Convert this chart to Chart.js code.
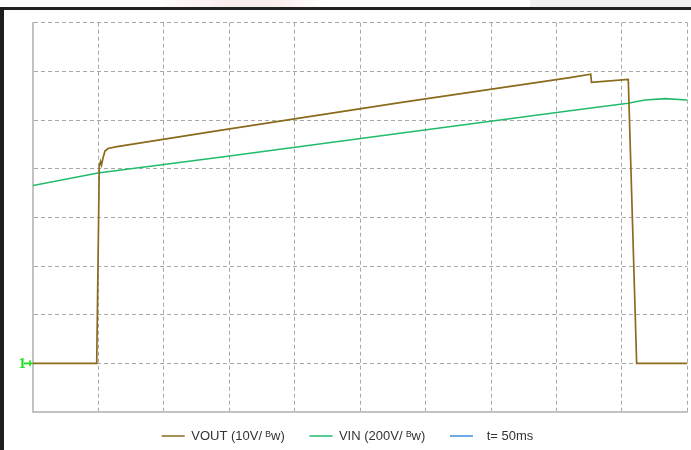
<!DOCTYPE html>
<html>
<head>
<meta charset="utf-8">
<script src="https://cdn.jsdelivr.net/npm/chart.js@4.4.1/dist/chart.umd.min.js"></script>
<style>
  html, body { margin: 0; padding: 0; background: #fff; }
  #wrap { position: relative; width: 691px; height: 450px; overflow: hidden; }
  #chart { position: absolute; left: 0; top: 0; }
  .topGray { position: absolute; left: 530px; top: 0; width: 161px; height: 7px; background: #f2f2f2; }
  .topPink { position: absolute; left: 150px; top: 0; width: 180px; height: 7px;
             background: linear-gradient(90deg, rgba(255,235,235,0), #fdeeee 40%, #fdeeee 70%, rgba(255,235,235,0)); }
  .topLine { position: absolute; left: 0; top: 7px; width: 691px; height: 2.5px; background: #222; }
  .leftLine { position: absolute; left: 0; top: 7px; width: 4px; height: 443px; background: #1e1e1e; }
</style>
</head>
<body>
<div id="wrap">
  <div class="topPink"></div>
  <div class="topGray"></div>
  <canvas id="chart" width="691" height="450"></canvas>
  <div class="topLine"></div>
  <div class="leftLine"></div>
</div>
<script>
// --- data (x and y in screen divisions, 10 x 8 grid) ---
const seriesNames = ['VOUT (10V/ \u1D2Ew)  ', 'VIN (200V/ \u1D2Ew)  ', '  t= 50ms       '];

const voutX = [0, 0.974, 1.013, 1.032, 1.047, 1.070, 1.100, 1.146, 1.284, 2.858, 5.609, 8.207, 8.524, 8.536, 9.098, 9.226, 10];
const voutY = [1.0, 1.0, 5.055, 5.148, 5.076, 5.220, 5.364, 5.415, 5.452, 5.789, 6.356, 6.870, 6.940, 6.776, 6.837, 1.0, 1.0];

const vinX = [0, 0.993, 2.858, 5.609, 8.207, 9.094, 9.354, 9.66, 10];
const vinY = [4.655, 4.911, 5.234, 5.728, 6.192, 6.344, 6.412, 6.439, 6.412];

const xDivisions = 10;
const yDivisions = 8;
const groundLevel = 1;

const colors = {
  vout: '#8a6b1c',
  vin: '#22bb6c',
  time: '#3d8fd9'
};

const toPoints = (xs, ys) => xs.map((x, i) => ({ x, y: ys[i] }));

// green "1->" ground marker on the left of the plot
const groundMarker = {
  id: 'groundMarker',
  afterDraw(chart) {
    const { ctx, scales } = chart;
    const y = scales.y.getPixelForValue(groundLevel);
    const left = chart.chartArea.left;
    ctx.save();
    ctx.fillStyle = '#1ee01e';
    ctx.strokeStyle = '#1ee01e';
    ctx.font = 'bold 15px "Liberation Serif", serif';
    ctx.textAlign = 'right';
    ctx.textBaseline = 'middle';
    ctx.fillText('1', left - 7, y + 1);
    ctx.lineWidth = 1.6;
    ctx.beginPath();
    ctx.moveTo(left - 9, y);
    ctx.lineTo(left, y);
    ctx.moveTo(left - 3, y - 3);
    ctx.lineTo(left - 3, y + 3);
    ctx.stroke();
    ctx.restore();
  }
};

// keep the legend band short so the plot reaches down like the scope screen
const legendHeight = {
  id: 'legendHeight',
  afterInit(chart) {
    const legend = chart.legend;
    if (!legend || legend._patched) return;
    const fit = legend.fit.bind(legend);
    legend.fit = function () {
      fit();
      this.height = 38;
    };
    legend._patched = true;
  }
};

const ctx = document.getElementById('chart');
new Chart(ctx, {
  type: 'line',
  data: {
    datasets: [
      {
        label: seriesNames[0],
        data: toPoints(voutX, voutY),
        borderColor: colors.vout,
        backgroundColor: colors.vout,
        borderWidth: 1.7,
        pointRadius: 0,
        tension: 0
      },
      {
        label: seriesNames[1],
        data: toPoints(vinX, vinY),
        borderColor: colors.vin,
        backgroundColor: colors.vin,
        borderWidth: 1.6,
        pointRadius: 0,
        tension: 0
      },
      {
        label: seriesNames[2],
        data: [],
        borderColor: colors.time,
        backgroundColor: colors.time,
        borderWidth: 1.6,
        pointRadius: 0
      }
    ]
  },
  options: {
    responsive: false,
    animation: false,
    layout: {
      padding: { left: 33, right: 3.7, top: 22.7, bottom: 0 }
    },
    scales: {
      x: {
        type: 'linear',
        min: 0,
        max: xDivisions,
        ticks: { display: false, stepSize: 1 },
        grid: { color: '#a8a8a8', lineWidth: 1, drawTicks: false },
        border: { display: true, color: '#c2c2c2', width: 2, dash: [4, 3] }
      },
      y: {
        type: 'linear',
        min: 0,
        max: yDivisions,
        ticks: { display: false, stepSize: 1 },
        grid: { color: '#a8a8a8', lineWidth: 1, drawTicks: false },
        border: { display: true, color: '#c2c2c2', width: 2, dash: [4, 3] }
      }
    },
    plugins: {
      legend: {
        position: 'bottom',
        labels: {
          usePointStyle: true,
          pointStyle: 'line',
          pointStyleWidth: 23,
          padding: 17.5,
          color: '#333',
          font: { family: "'Liberation Sans', Arial, sans-serif", size: 13 }
        }
      },
      tooltip: { enabled: false }
    }
  },
  plugins: [groundMarker, legendHeight]
});
</script>
</body>
</html>
